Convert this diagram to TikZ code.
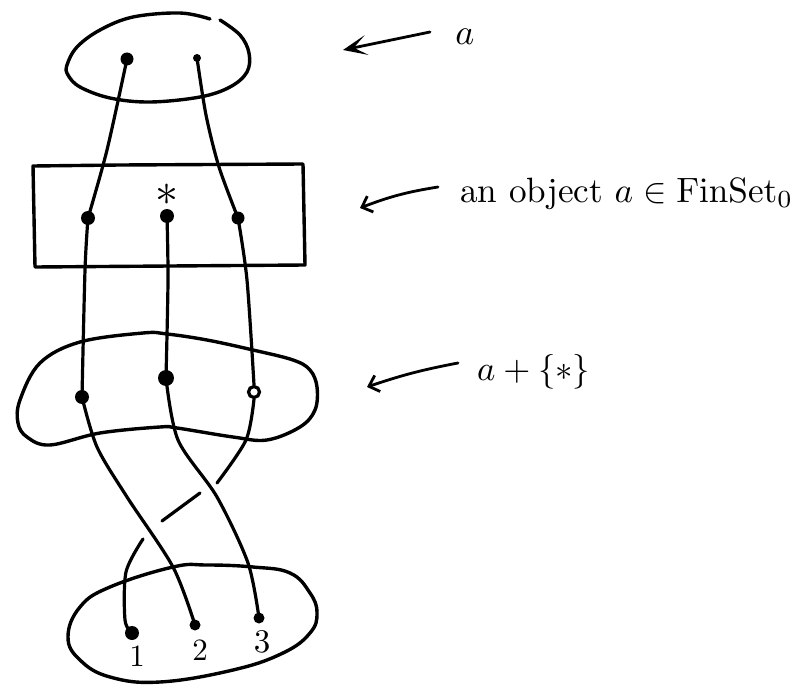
\documentclass[tikz,border=0pt]{standalone}
\usetikzlibrary{arrows.meta}
\begin{document}
\begin{tikzpicture}[x=1pt,y=-1pt,
  pen/.style={line width=3.4pt,line cap=round,line join=round},
  strand/.style={line width=3.2pt,line cap=round},
  dot/.style={circle,fill=black,inner sep=0pt,minimum size=#1},
  dot/.default=10pt,
  ring/.style={circle,draw,line width=3.2pt,inner sep=0pt,minimum size=11pt},
  arr/.style={line width=2.8pt,line cap=round},
  lab/.style={inner sep=0pt}]
\useasboundingbox (0,0) rectangle (809,698);

% top ellipse (with small pen gap at top right)
\draw[pen] plot[smooth,tension=0.6] coordinates {(220,20) (240,35) (249,53) (247,72) (230,87) (200,97) (150,102) (110,98) (80,87) (68,75) (67,65) (77,47) (100,30) (133,17) (180,13) (210,19)};

% rectangle
\draw[pen] (33,166) -- (120,165) -- (303,164) -- (305,265) -- (35,267) -- cycle;

% middle blob
\draw[pen] plot[smooth cycle,tension=0.6] coordinates {(40,363) (80,342) (143,333) (167,334) (207,340) (253,350) (293,360) (310,370) (317,387) (315,410) (300,427) (267,440) (233,437) (177,428) (160,427) (100,433) (50,445) (27,437) (18,423) (20,400)};

% bottom ellipse
\draw[pen] plot[smooth cycle,tension=0.7] coordinates {(68,637) (80,607) (110,587) (173,567) (207,565) (253,567) (290,573) (310,593) (317,613) (310,633) (283,653) (233,670) (160,682) (110,677) (80,660)};

% dots
\node[dot=13pt] (t1) at (127,59) {};
\node[dot=8pt] (t2) at (197,58) {};
\node[dot=14pt] (r1) at (88,218) {};
\node[dot=14pt] (r2) at (167,216) {};
\node[dot=13pt] (r3) at (238,218) {};
\node[lab] (star) at (167,195) {\scalebox{4.6}{$\ast$}};
\node[dot=14pt] (b1) at (82,397) {};
\node[dot=16pt] (b2) at (166,378) {};
\node[ring] (b3) at (254,392) {};
\node[dot=14pt] (d1) at (132,633) {};
\node[dot=11pt] (d2) at (195,625) {};
\node[dot=11pt] (d3) at (259,618) {};
\node[lab] (n1) at (137,656) {\scalebox{3.1}{1}};
\node[lab] (n2) at (200,650) {\scalebox{3.1}{2}};
\node[lab] (n3) at (262,642) {\scalebox{3.3}{3}};

% strands
\draw[strand] plot[smooth] coordinates {(t1.center) (107,150) (r1.center)};
\draw[strand] plot[smooth] coordinates {(t2.center) (206,115) (219,167) (r3.center)};
\draw[strand] plot[smooth] coordinates {(r1.center) (85,270) (b1.center)};
\draw[strand] plot[smooth] coordinates {(r2.center) (168,280) (b2.center)};
\draw[strand] plot[smooth] coordinates {(r3.center) (247,280) (b3.north)};

\draw[strand] plot[smooth] coordinates {(b1.center) (97,447) (127,497) (173,567) (d2.center)};
\draw[strand] plot[smooth] coordinates {(b2.center) (178,440) (217,497) (248,563) (d3.center)};
\coordinate (g1) at (217,483);
\coordinate (g2) at (200,493);
\coordinate (g3) at (162,521);
\coordinate (g4) at (143,539);
\draw[strand] plot[smooth] coordinates {(b3.south) (246,440) (g1)};
\draw[strand] (g2) -- (g3);
\draw[strand] plot[smooth] coordinates {(g4) (126,572) (125,620) (d1.center)};

% labels and arrows
\node[lab] (la) at (465,37) {\scalebox{3.6}{$a$}};
\node[anchor=west,inner sep=0pt] (lobj) at (460,194) {\resizebox{333pt}{!}{an object $a\in\mathrm{FinSet}_0$}};
\node[anchor=west,inner sep=0pt] (lsum) at (477,372) {\resizebox{113pt}{!}{$a+\{*\}$}};

\coordinate (a1t) at (430,32);
\coordinate (a1h) at (343,50);
\coordinate (a2t) at (438,187);
\coordinate (a2h) at (360,208);
\coordinate (a3t) at (458,363);
\coordinate (a3h) at (367,387);
\draw[arr,-{Stealth[length=24pt,width=20pt,inset=13pt]}] (a1t) -- (a1h);
\draw[arr,-{Straight Barb[length=9pt,width=17pt]}] (a2t) to[bend right=6] (a2h);
\draw[arr,-{Straight Barb[length=9pt,width=17pt]}] (a3t) to[bend right=4] (a3h);
\end{tikzpicture}
\end{document}
